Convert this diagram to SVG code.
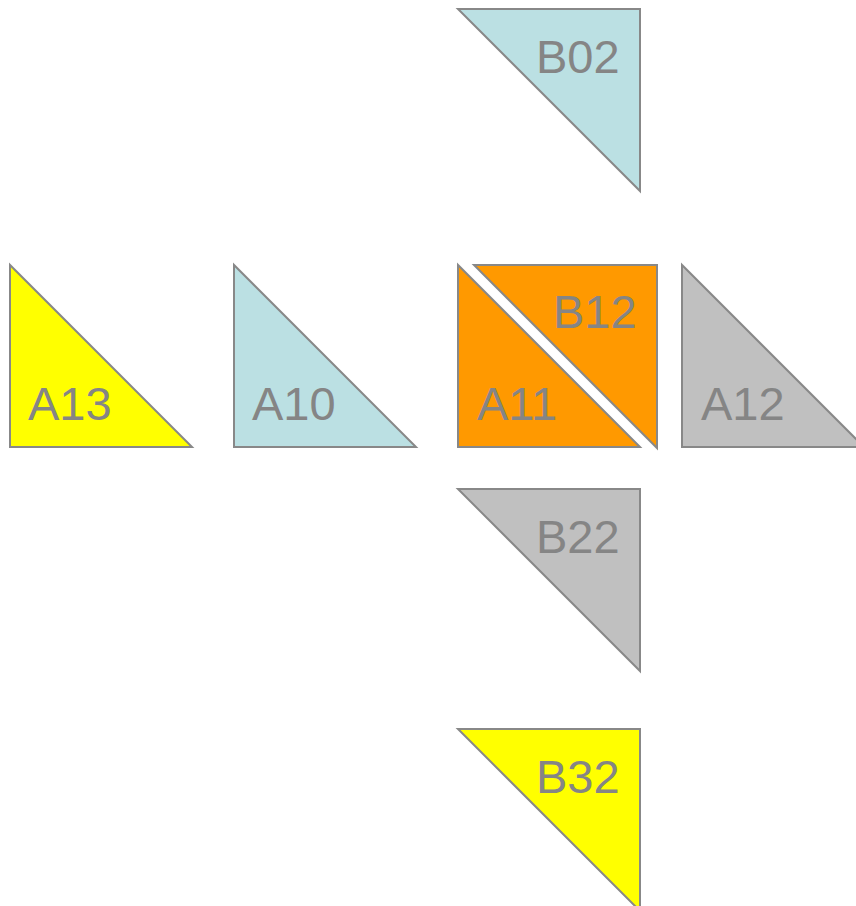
<svg xmlns="http://www.w3.org/2000/svg" width="856" height="906" viewBox="0 0 856 906">
<style>
.t{stroke:#888888;stroke-width:2;stroke-linejoin:miter}
.lb{fill:#BBE0E3}.or{fill:#FF9900}.gr{fill:#C0C0C0}.ye{fill:#FFFF00}
text{font-family:"Liberation Sans",Arial,sans-serif;font-size:47px;fill:#858585}
</style>
<rect width="856" height="906" fill="#ffffff"/>
<g id="B02"><polygon class="t lb" points="458,9 640,9 640,191"/><text x="536" y="73">B02</text></g>
<g id="A13"><polygon class="t ye" points="10,265 10,447 192,447"/><text x="28" y="420">A13</text></g>
<g id="A10"><polygon class="t lb" points="234,265 234,447 416,447"/><text x="252" y="420">A10</text></g>
<g id="A11"><polygon class="t or" points="458,265 458,447 640,447"/><text x="477" y="420">A11</text></g>
<g id="B12"><polygon class="t or" points="474,265 657,265 657,448"/><text x="553" y="328">B12</text></g>
<g id="A12"><polygon class="t gr" points="682,265 682,447 864,447"/><text x="701" y="420">A12</text></g>
<g id="B22"><polygon class="t gr" points="458,489 640,489 640,671"/><text x="536" y="553">B22</text></g>
<g id="B32"><polygon class="t ye" points="458,729 640,729 640,911"/><text x="536" y="793">B32</text></g>
<g id="connectors"></g>
</svg>
